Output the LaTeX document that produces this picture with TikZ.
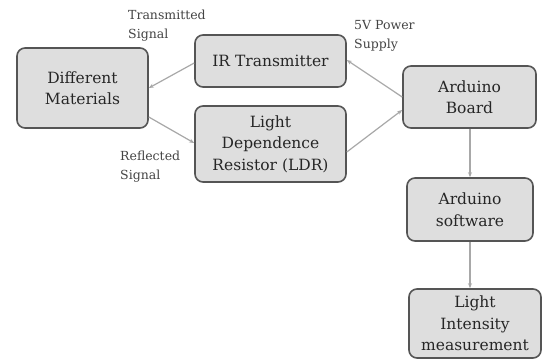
\documentclass[tikz,border=0pt]{standalone}
\usepackage{fontspec}
\setmainfont{DejaVu Serif}
\usetikzlibrary{arrows.meta}
\definecolor{boxfill}{HTML}{DEDEDE}
\definecolor{boxline}{HTML}{555555}
\definecolor{arrowc}{HTML}{A8A8A8}
\definecolor{labelc}{HTML}{444444}
\begin{document}
\begin{tikzpicture}[x=1pt,y=-1pt,
  blk/.style={draw=boxline,line width=1.6pt,fill=boxfill,rounded corners=8pt,align=center,font=\fontsize{15.5}{21.5}\selectfont,text=black!85,inner sep=0pt},
  conn/.style={draw=arrowc,line width=1.2pt,-{Stealth[length=5pt,width=4pt]}},
  lbl/.style={align=left,font=\fontsize{12.5}{19}\selectfont,text=labelc,inner sep=0pt,anchor=west}]
\useasboundingbox[fill=white] (0,0) rectangle (542,360);
\node[blk,minimum width=131pt,minimum height=80pt] (mat) at (82.5,88) {Different\\Materials};
\node[blk,minimum width=151pt,minimum height=52pt] (ir) at (270.5,61) {IR Transmitter};
\node[blk,minimum width=151pt,minimum height=76pt] (ldr) at (270.5,144) {Light\\Dependence\\Resistor (LDR)};
\node[blk,minimum width=133pt,minimum height=62pt] (ard) at (469.5,97) {Arduino\\Board};
\node[blk,minimum width=126pt,minimum height=63pt] (sw) at (470,209.5) {Arduino\\software};
\node[blk,minimum width=132pt,minimum height=69pt] (li) at (475,323.5) {Light\\Intensity\\measurement};
\draw[conn] (ir.west |- 0,63) -- (mat.east |- 0,88);
\draw[conn] (mat.east |- 0,117) -- (ldr.west |- 0,143);
\draw[conn] (ard.west |- 0,97) -- (ir.east |- 0,60);
\draw[conn] (ldr.east |- 0,152) -- (ard.west |- 0,110);
\draw[conn] (ard.south -| 470,0) -- (sw.north -| 470,0);
\draw[conn] (sw.south -| 470,0) -- (li.north -| 470,0);
\node[lbl] (t1) at (128,26) {Transmitted\\Signal};
\node[lbl] (t2) at (120,167) {Reflected\\Signal};
\node[lbl] (t3) at (354,36) {5V Power\\Supply};
\end{tikzpicture}
\end{document}
